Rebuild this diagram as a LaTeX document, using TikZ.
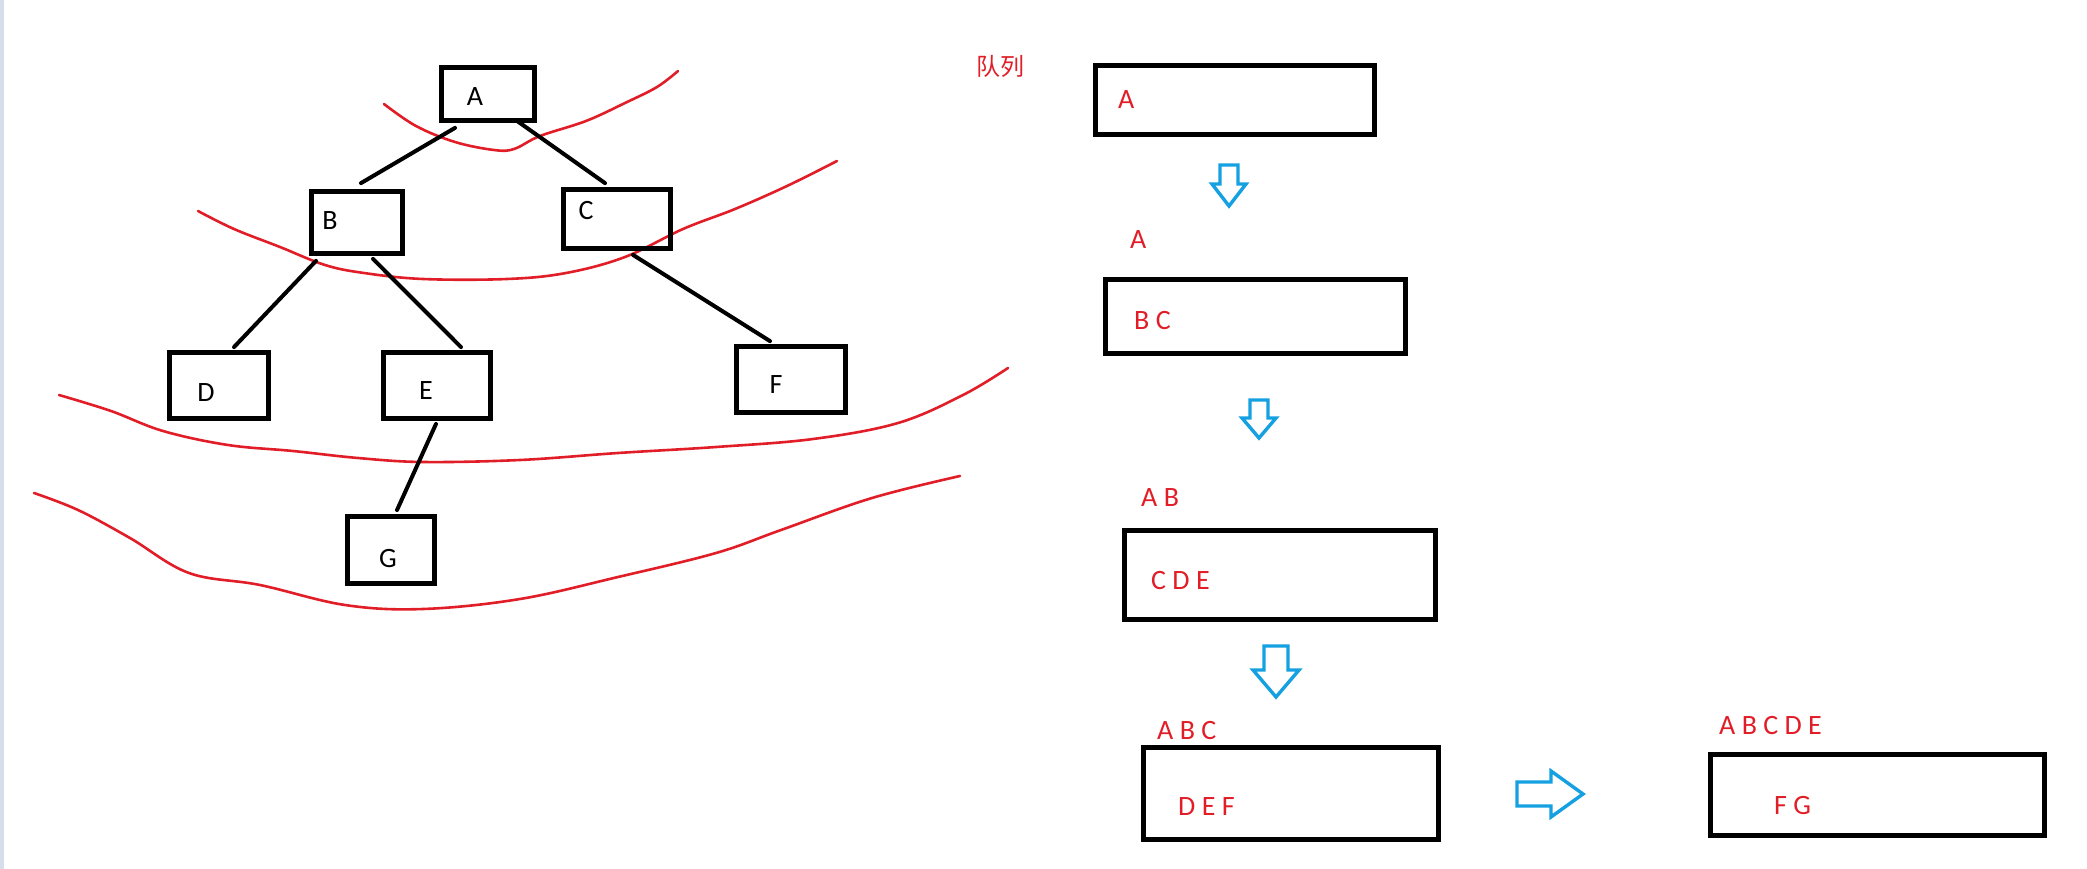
\documentclass[tikz,border=0pt]{standalone}
\usepackage{fontspec}
\setmainfont{Carlito}
\newfontfamily\cjk{Noto Sans CJK SC}
\definecolor{pen}{RGB}{225,30,40}
\definecolor{arrowblue}{RGB}{20,160,225}
\definecolor{stripbg}{RGB}{214,222,236}
\begin{document}
\begin{tikzpicture}[x=1pt,y=-1pt,
  box/.style={draw=black,line width=4.8pt,inner sep=0pt},
  treeline/.style={line width=4pt,line cap=round},
  curve/.style={draw=pen,line width=2.6pt,line cap=round,line join=round},
  blk/.style={inner sep=0pt,font=\fontsize{28}{28}\selectfont},
  rtxt/.style={inner sep=0pt,anchor=west,text=pen,font=\fontsize{28}{28}\selectfont},
  barrow/.style={draw=arrowblue,line width=3.4pt,line join=miter}]
\fill[white] (0,0) rectangle (2087,869);
\useasboundingbox (0,0) rectangle (2087,869);
\fill[stripbg] (0,0) rectangle (4,869);

% red level curves
\draw[curve] plot[smooth,tension=0.6] coordinates {(384,104) (416,126) (455,142) (494,150) (514,149) (540,136) (586,121) (625,103) (657,87) (678,71)};
\draw[curve] plot[smooth,tension=0.6] coordinates {(198,211) (234,229) (280,247) (325,265) (364,273) (423,279) (507,279) (566,273) (625,257) (683,229) (735,209) (787,186) (837,161)};
\draw[curve] plot[smooth,tension=0.6] coordinates {(59,395) (111,411) (163,431) (228,445) (293,451) (358,458) (423,462) (520,460) (618,453) (716,447) (813,439) (898,423) (963,395) (1008,368)};
\draw[curve] plot[smooth,tension=0.6] coordinates {(34,493) (78,510) (130,538) (189,573) (260,585) (345,605) (423,609) (520,599) (618,577) (716,553) (781,530) (872,498) (960,476)};

% tree boxes
\node[box,minimum width=93,minimum height=53] (A) at (488,94) {};
\node[box,minimum width=91,minimum height=62] (B) at (357,222.5) {};
\node[box,minimum width=107,minimum height=59] (C) at (617,219) {};
\node[box,minimum width=99,minimum height=66] (D) at (219,385.5) {};
\node[box,minimum width=107,minimum height=66] (E) at (437,385.5) {};
\node[box,minimum width=109,minimum height=66] (F) at (791,379.5) {};
\node[box,minimum width=87,minimum height=67] (G) at (391,550) {};

\node[blk] (tA) at (475,97) {A};
\node[blk] (tB) at (330,221) {B};
\node[blk] (tC) at (586,211) {C};
\node[blk] (tD) at (206,393) {D};
\node[blk] (tE) at (426,391) {E};
\node[blk] (tF) at (776,385) {F};
\node[blk] (tG) at (388,559) {G};

% tree edges
\draw[treeline] ([shift={(-33,5)}]A.south) -- ([shift={(4,-6)}]B.north);
\draw[treeline] ([shift={(29,-2)}]A.south) -- ([shift={(-12,-4)}]C.north);
\draw[treeline] ([shift={(-41,5)}]B.south) -- ([shift={(15,-3)}]D.north);
\draw[treeline] ([shift={(16,3)}]B.south) -- ([shift={(24,-3)}]E.north);
\draw[treeline] ([shift={(16,4)}]C.south) -- ([shift={(-21,-3)}]F.north);
\draw[treeline] ([shift={(-1,3)}]E.south) -- ([shift={(6,-4)}]G.north);

% queue
\node[inner sep=0pt,anchor=west,text=pen,font=\cjk\fontsize{24}{24}\selectfont] (title) at (976,66) {队列};

\node[box,minimum width=279,minimum height=69] (Q1) at (1235,100) {};
\node[box,minimum width=300,minimum height=74] (Q2) at (1255.5,316.5) {};
\node[box,minimum width=311,minimum height=89] (Q3) at (1280,575) {};
\node[box,minimum width=295,minimum height=92] (Q4) at (1291,793.5) {};
\node[box,minimum width=334,minimum height=81] (Q5) at (1877.5,795) {};

\node[rtxt] (q1in) at (1118,100) {A};
\node[rtxt] (q2out) at (1130,240) {A};
\node[rtxt] (q2in) at (1134,321) {B C};
\node[rtxt] (q3out) at (1141,498) {A B};
\node[rtxt] (q3in) at (1151,581) {C D E};
\node[rtxt] (q4out) at (1157,731) {A B C};
\node[rtxt] (q4in) at (1178,807) {D E F};
\node[rtxt] (q5out) at (1719,726) {A B C D E};
\node[rtxt] (q5in) at (1774,806) {F G};

% blue hollow arrows
\draw[barrow] (1220,165) -- (1238,165) -- (1238,184) -- (1246,184) -- (1229,206) -- (1212,184) -- (1220,184) -- cycle;
\draw[barrow] (1250,400) -- (1268,400) -- (1268,418) -- (1276,418) -- (1259,438) -- (1242,418) -- (1250,418) -- cycle;
\draw[barrow] (1264,646) -- (1288,646) -- (1288,670) -- (1299,670) -- (1276,697) -- (1253,670) -- (1264,670) -- cycle;
\draw[barrow] (1517,782) -- (1551,782) -- (1551,771) -- (1583,794) -- (1551,817) -- (1551,806) -- (1517,806) -- cycle;
\end{tikzpicture}
\end{document}
